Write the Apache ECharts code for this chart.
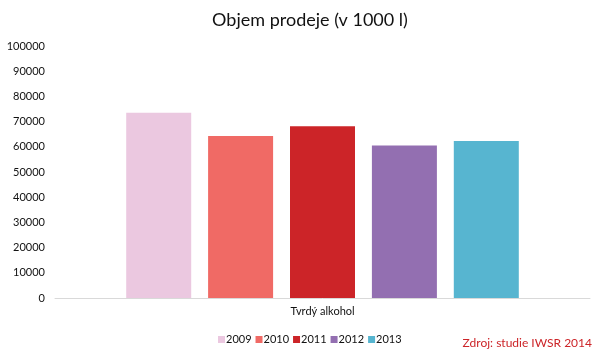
<!DOCTYPE html>
<html>
<head>
<meta charset="utf-8">
<script src="https://cdn.jsdelivr.net/npm/echarts@6/dist/echarts.min.js"></script>
<style>
  html, body { margin: 0; padding: 0; background: #fff; }
  #main { width: 600px; height: 352px; }
</style>
</head>
<body>
<div id="main"></div>
<script>
// data
const categories = ['Tvrdý alkohol'];
const years = ['2009', '2010', '2011', '2012', '2013'];
const values = [73500, 64300, 68200, 60500, 62300];
const colors = ['#ebc8e0', '#f06a65', '#cc2428', '#936fb1', '#57b5d0'];
const yTicks = [0, 100000, 10000]; // min, max, interval

var myChart = echarts.init(document.getElementById('main'));

myChart.setOption({
  animation: false,
  textStyle: { fontFamily: 'Lato' },
  title: [
    {
      text: 'Objem prodeje (v 1000 l)',
      left: 305,
      top: 6,
      textAlign: 'center',
      textStyle: { fontSize: 18, fontWeight: 'normal', color: '#111', fontFamily: 'Lato' }
    },
    {
      text: 'Zdroj: studie IWSR 2014',
      right: 3,
      top: 332,
      textStyle: { fontSize: 12, fontWeight: 'normal', color: '#cc2428', fontFamily: 'Lato' }
    }
  ],
  legend: {
    left: 213,
    top: 329,
    itemWidth: 7,
    itemHeight: 7,
    itemGap: 4,
    icon: 'rect',
    textStyle: { fontSize: 11, color: '#111', padding: [0, 0, 0, -4] },
    data: years
  },
  grid: { left: 55, right: 10, top: 46, bottom: 54 },
  xAxis: {
    type: 'category',
    data: categories,
    axisTick: { show: false },
    axisLine: { lineStyle: { color: '#d9d9d9' } },
    axisLabel: { fontSize: 11, color: '#111', margin: 8 }
  },
  yAxis: {
    type: 'value',
    min: yTicks[0],
    max: yTicks[1],
    interval: yTicks[2],
    splitLine: { show: false },
    axisLine: { show: false },
    axisTick: { show: false },
    axisLabel: { fontSize: 11, color: '#111', margin: 10, formatter: v => String(v) }
  },
  series: years.map((y, i) => ({
    name: y,
    type: 'bar',
    data: [values[i]],
    barWidth: 65,
    barGap: '26%',
    itemStyle: { color: colors[i] }
  }))
});
</script>
</body>
</html>
